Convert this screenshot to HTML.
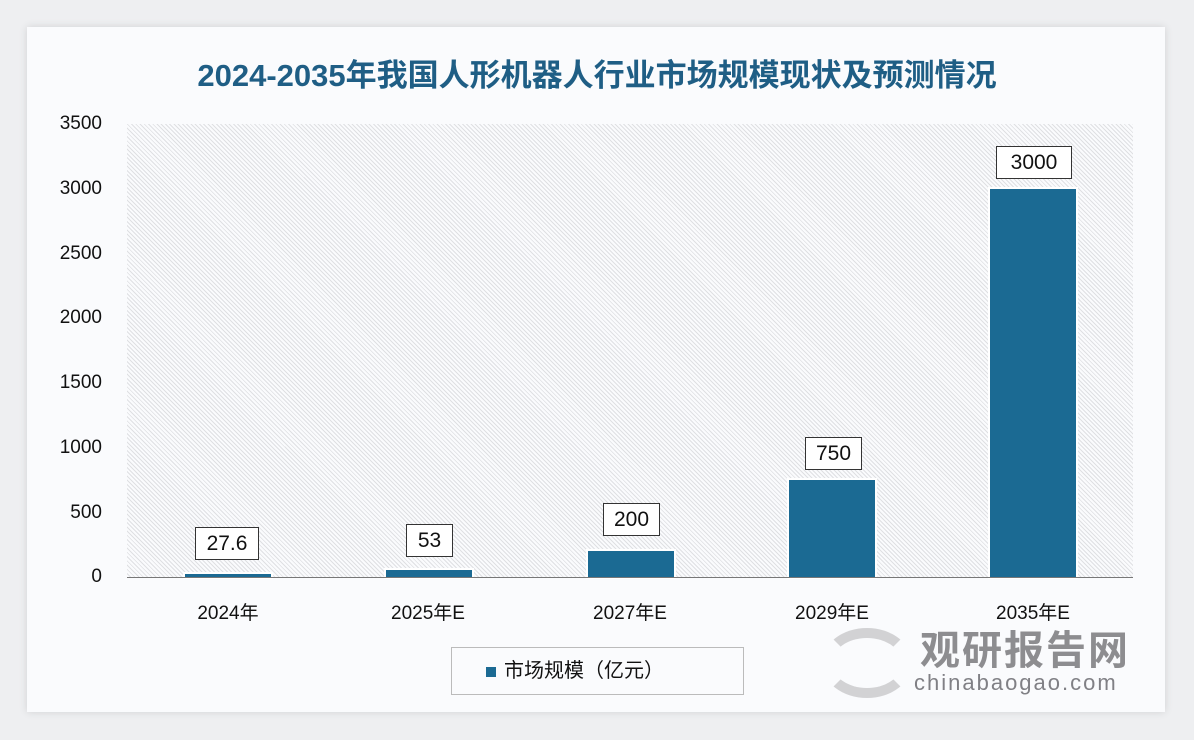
<!DOCTYPE html>
<html><head><meta charset="utf-8"><style>
body{margin:0;width:1194px;height:740px;background:#eeeff1;position:relative;overflow:hidden;font-family:"Liberation Sans","Noto Sans CJK SC",sans-serif}
.card{position:absolute;left:27px;top:27px;width:1138px;height:685px;background:#fafbfd;box-shadow:0 0 8px rgba(0,0,0,.12)}
.t{position:absolute;left:0;width:1194px;top:50px;text-align:center;font-size:31px;font-weight:bold;color:#1f5e85}
.plot{position:absolute;left:127px;top:124px;width:1006px;height:453px;background:repeating-linear-gradient(45deg,#fafbfd 0 2px,#dfe0e3 2px 3px)}
.axis{position:absolute;left:127px;top:577px;width:1006px;height:1px;background:#777}
.yl{position:absolute;left:30px;width:72px;text-align:right;font-size:19px;color:#111}
.bar{position:absolute;background:#1b6a93;width:86px;box-shadow:0 0 0 2px #fff}
.lb{position:absolute;background:#fff;border:1px solid #333;font-size:21px;text-align:center;line-height:31px;height:31px;color:#111}
.xl{position:absolute;top:598px;width:200px;text-align:center;font-size:19px;color:#111}
.leg{position:absolute;left:451px;top:647px;width:291px;height:46px;border:1px solid #bbb;background:#fafbfd;font-size:20px;line-height:46px;color:#111}
</style></head><body>
<div class="card"></div>
<div class="t">2024-2035年我国人形机器人行业市场规模现状及预测情况</div>
<div class="plot"></div>
<div class="yl" style="top:113px">3500</div>
<div class="yl" style="top:178px">3000</div>
<div class="yl" style="top:243px">2500</div>
<div class="yl" style="top:307px">2000</div>
<div class="yl" style="top:372px">1500</div>
<div class="yl" style="top:437px">1000</div>
<div class="yl" style="top:502px">500</div>
<div class="yl" style="top:566px">0</div>
<div class="bar" style="left:185px;top:574px;height:3px"></div>
<div class="bar" style="left:386px;top:570px;height:7px"></div>
<div class="bar" style="left:588px;top:551px;height:26px"></div>
<div class="bar" style="left:789px;top:480px;height:97px"></div>
<div class="bar" style="left:990px;top:189px;height:388px"></div>
<div class="axis"></div>
<div class="lb" style="left:195px;top:527px;width:62px">27.6</div>
<div class="lb" style="left:406px;top:524px;width:45px">53</div>
<div class="lb" style="left:603px;top:503px;width:55px">200</div>
<div class="lb" style="left:805px;top:437px;width:55px">750</div>
<div class="lb" style="left:996px;top:146px;width:74px">3000</div>
<div class="xl" style="left:128px">2024年</div>
<div class="xl" style="left:328px">2025年E</div>
<div class="xl" style="left:530px">2027年E</div>
<div class="xl" style="left:732px">2029年E</div>
<div class="xl" style="left:933px">2035年E</div>
<div class="leg"><span style="display:inline-block;width:10px;height:10px;background:#1b6a93;margin:0 8px 0 34px"></span>市场规模（亿元）</div>
<div style="position:absolute;left:920px;top:618px;font-size:40px;font-weight:bold;color:#8d8d90;letter-spacing:2px">观研报告网</div>
<div style="position:absolute;left:914px;top:670px;font-size:22px;color:#808085;letter-spacing:2px">chinabaogao.com</div>
<div style="position:absolute;left:822px;top:628px;width:70px;height:50px;border-radius:50%;border:10px solid #c9c9cb;border-left-color:transparent;border-right-color:transparent;opacity:.8"></div>
</body></html>
